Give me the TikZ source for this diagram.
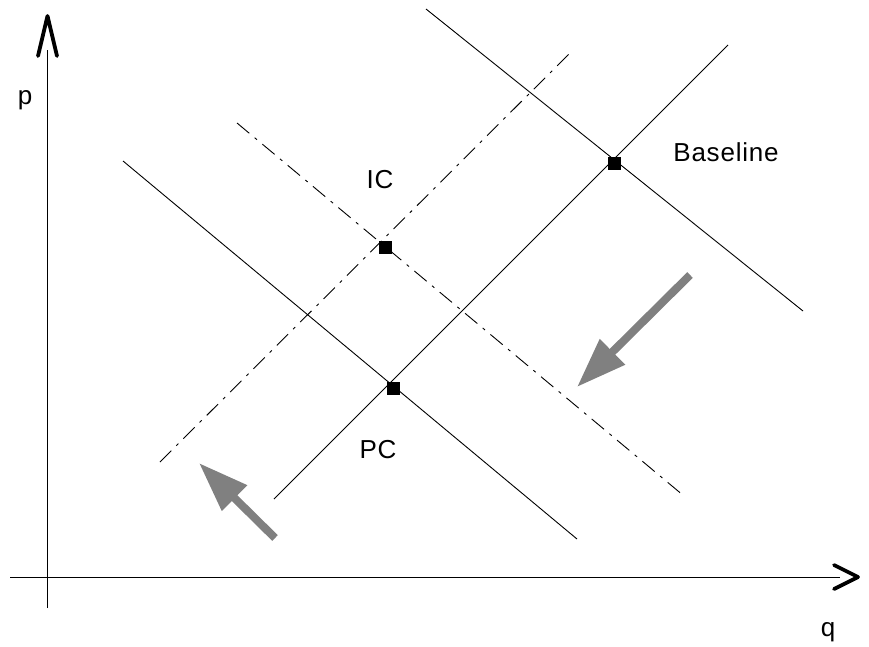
\documentclass[tikz,border=0pt]{standalone}
\usepackage{fontspec}
\setmainfont{Liberation Sans}
\usetikzlibrary{arrows.meta}
\begin{document}
\begin{tikzpicture}[x=1pt,y=-1pt,
  thinline/.style={line width=0.9pt,black},
  dashdot/.style={line width=0.9pt,black,dash pattern=on 16pt off 7pt on 3pt off 7pt},
  chev/.style={line width=3.8pt,line cap=round,line join=round},
  eqpt/.style={fill=black,inner sep=0pt,minimum size=13pt,draw=none},
  shift arrow/.style={draw=gray,line width=8pt,-{Triangle[length=50pt,width=34pt]},fill=gray},
  lbl/.style={font=\fontsize{26}{30}\selectfont\addfontfeature{LetterSpace=3},inner sep=0pt}]
\useasboundingbox (0,0) rectangle (869,647);
% axes
\coordinate (ytop) at (47,50);
\coordinate (ybot) at (47,608);
\coordinate (xl) at (10,577);
\coordinate (xr) at (840,577);
\draw[thinline] (ybot) -- (ytop);
\draw[thinline] (xl) -- (xr);
\coordinate (ya) at (38,56); \coordinate (yb) at (47.5,16); \coordinate (yc) at (57,56);
\draw[chev] (ya) -- (yb) -- (yc);
\coordinate (xa) at (834,565); \coordinate (xb) at (858,577); \coordinate (xc) at (834,589);
\draw[chev] (xa) -- (xb) -- (xc);
\node[lbl] (p) at (25,100) {p};
\node[lbl] (q) at (828,632) {q};
% baseline supply and demand
\coordinate (s0a) at (274,499); \coordinate (s0b) at (728,45);
\coordinate (d0a) at (426,9); \coordinate (d0b) at (803,311);
\draw[thinline] (s0a) -- (s0b);
\draw[thinline] (d0a) -- (d0b);
% PC demand
\coordinate (d1a) at (123,161); \coordinate (d1b) at (577,539);
\draw[thinline] (d1a) -- (d1b);
% IC supply and demand
\coordinate (s1a) at (160,462); \coordinate (s1b) at (573,50);
\coordinate (d2a) at (237,123); \coordinate (d2b) at (684,496);
\draw[dashdot] (s1a) -- (s1b);
\draw[dashdot] (d2a) -- (d2b);
% equilibria
\node[eqpt] (e0) at (614,164) {};
\node[eqpt] (e1) at (385,247) {};
\node[eqpt] (e2) at (393,388) {};
% labels
\node[lbl] (bl) at (726,152) {Baseline};
\node[lbl] (ic) at (380,180) {IC};
\node[lbl] (pc) at (378,450) {PC};
% shift arrows
\coordinate (a1t) at (690,275); \coordinate (a1h) at (577,387);
\coordinate (a2t) at (275,538); \coordinate (a2h) at (199,463);
\draw[shift arrow] (a1t) -- (a1h);
\draw[shift arrow] (a2t) -- (a2h);
\end{tikzpicture}
\end{document}
